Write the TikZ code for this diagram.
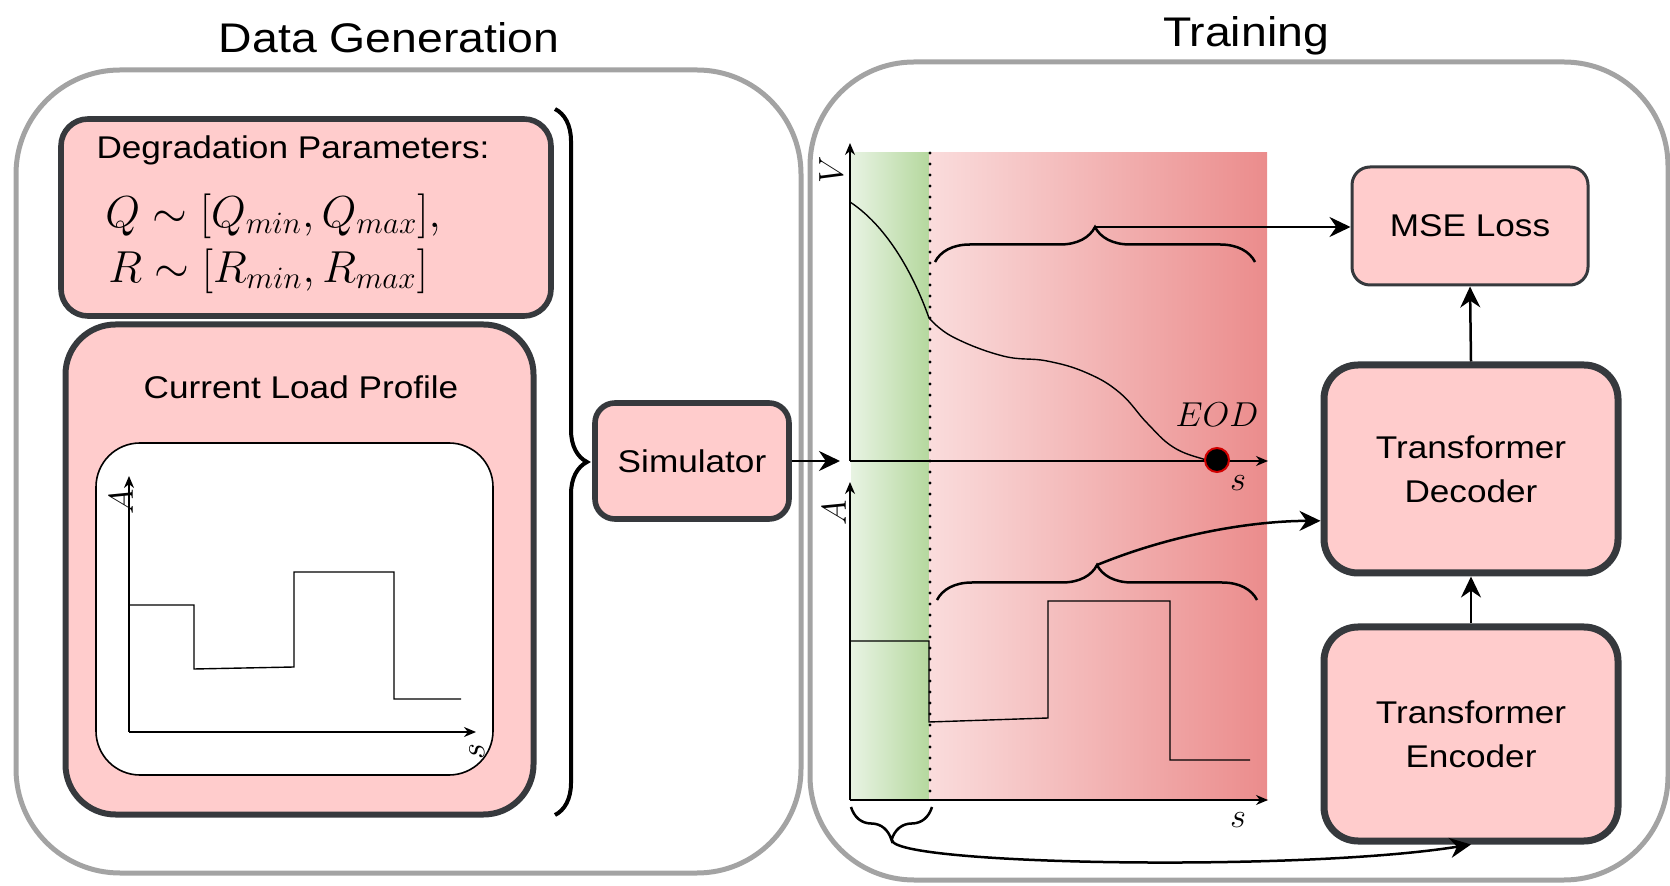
\documentclass[tikz,border=0pt]{standalone}
\usepackage{graphicx}
\usepackage[no-math]{fontspec}
\setmainfont{Liberation Sans}[FakeStretch=1.12]
\usetikzlibrary{arrows.meta,decorations.pathreplacing,calc}
\definecolor{boxpink}{HTML}{FFCCCC}
\definecolor{boxline}{HTML}{36393D}
\definecolor{outergray}{HTML}{A3A3A3}
\definecolor{greenL}{HTML}{E8F3E3}
\definecolor{greenR}{HTML}{B5D89E}
\definecolor{redL}{HTML}{FADCDC}
\definecolor{redR}{HTML}{EB8C8C}
\definecolor{eodred}{HTML}{D00000}
\newcommand{\bxfont}{\fontsize{15.7}{22}\selectfont}
\newcommand{\ttlfont}{\fontsize{20.7}{25}\selectfont}
\newcommand{\mthfont}{\fontsize{20.74}{25}\selectfont}
\newcommand{\lblfnt}{\fontsize{17.28}{20}\selectfont}
\begin{document}
\begin{tikzpicture}[x=0.5pt,y=-0.5pt,
  outer/.style={draw=outergray, line width=2.5pt, rounded corners=52pt},
  blk/.style={draw=boxline, fill=boxpink, align=center, font=\bxfont, inner sep=0pt},
  conn/.style={line width=1.25pt, -{Stealth[length=10.5pt,width=10pt]}},
  axis/.style={line width=0.7pt, -{Stealth[length=6pt,width=5pt]}},
  curve/.style={line width=0.7pt},
  brc/.style={decorate, decoration={brace, amplitude=#1}, line width=1.25pt},
  ttl/.style={font=\ttlfont, anchor=base},
  lbl/.style={font=\lblfnt, inner sep=0pt},
]
\useasboundingbox (0,0) rectangle (1670,886);
\clip (0,0) rectangle (1670,886);
% outer frames
\draw[outer] (16,70) rectangle (801,873);
\draw[outer] (810,62) rectangle (1668,880);
% titles
\node[ttl] (tdg) at (389,53) {Data Generation};
\node[ttl] (ttr) at (1246,47) {Training};
% degradation parameters
\node[blk, line width=2.8pt, rounded corners=13.5pt, minimum width=245pt, minimum height=98.5pt] (deg) at (306,217.5) {};
\node[font=\bxfont, inner sep=0pt] (degt) at (293,150) {Degradation Parameters:};
\node[font=\mthfont, anchor=west, inner sep=0pt] (degq) at (105,216) {\scalebox{1.08}{$Q\sim[Q_{min},Q_{max}],$}};
\node[font=\mthfont, anchor=west, inner sep=0pt] (degr) at (108,271) {\scalebox{1.08}{$R\sim[R_{min},R_{max}]$}};
% current load profile
\node[blk, line width=3pt, rounded corners=25pt, minimum width=234pt, minimum height=245pt] (clp) at (299.5,569.5) {};
\node[font=\bxfont, inner sep=0pt] (clpt) at (301,387) {Current Load Profile};
\node[draw=black, fill=white, line width=0.8pt, rounded corners=22pt, minimum width=198.5pt, minimum height=166pt, inner sep=0pt] (plotbg) at (294.5,609) {};
\draw[axis] (129,732) -- (129,476);
\draw[axis] (129,732) -- (476,732);
\node[lbl, rotate=90] (la) at (121,502) {$A$};
\node[lbl, rotate=90] (ls) at (477,752) {$s$};
\draw[curve] (129,605) -- (194,605) -- (194,669) -- (294,667) -- (294,572) -- (394,572) -- (394,699) -- (461,699);
% big brace
\draw[brc=16pt, line width=2pt] (555,109) -- (555,815);
\coordinate (btip) at (587,461);
% simulator
\node[blk, line width=2.8pt, rounded corners=10pt, minimum width=97pt, minimum height=58pt] (sim) at (692,461) {Simulator};
\coordinate (chin) at (840,461);
\draw[conn] (sim.east) -- (chin);
% chart backgrounds
\shade[left color=greenL, right color=greenR] (851,153) rectangle (929,800);
\shade[left color=redL, right color=redR] (929,153) rectangle (1267,800);
\draw[line width=1.6pt, line cap=round, dash pattern=on 0pt off 5.5pt] (930,153) -- (930,800);
% axes
\draw[axis] (850,461) -- (850,143);
\draw[axis] (850,461) -- (1268,461);
\draw[axis] (850,800) -- (850,482);
\draw[axis] (850,800) -- (1268,800);
\node[lbl, rotate=90] (lv) at (831,170) {$V$};
\node[lbl, rotate=90] (la2) at (834,513) {$A$};
\node[lbl] (ls1) at (1238,483) {$s$};
\node[lbl] (ls2) at (1238,820) {$s$};
\node[lbl] (leod) at (1217,415) {$EOD$};
% voltage curve
\draw[curve] (850,202) .. controls (885,225) and (912,270) .. (929,318);
\draw[curve] plot[smooth, tension=0.7] coordinates {(929,318) (953,337) (1003,356) (1047,361) (1087,373) (1120,393) (1147,423) (1173,447) (1203,459) (1217,461)};
\node[circle, fill=black, draw=eodred, line width=1pt, minimum size=12pt, inner sep=0pt] (eod) at (1217,460) {};
% current profile in chart
\draw[curve] (850,641) -- (929,641) -- (929,722) -- (1048,718) -- (1048,601) -- (1170,601) -- (1170,760) -- (1250,760);
% braces in chart
\draw[brc=17.5pt] (935,262) -- (1255,262);
\coordinate (t1) at (1095,227);
\draw[brc=17.5pt] (937,600) -- (1257,600);
\coordinate (t2) at (1097,565);
\draw[brc=16.5pt] (932,807) -- (851,807);
\coordinate (t3) at (892,840);
% right boxes
\node[blk, line width=1.5pt, rounded corners=9pt, minimum width=118pt, minimum height=59pt] (mse) at (1470,226) {MSE Loss};
\node[blk, line width=3.5pt, rounded corners=17pt, minimum width=147pt, minimum height=104pt] (dec) at (1471,469) {Transformer\\Decoder};
\node[blk, line width=3.5pt, rounded corners=17pt, minimum width=147pt, minimum height=107pt] (enc) at (1471,734) {Transformer\\Encoder};
% connectors
\draw[conn] (t1) -- (t1 -| mse.west);
\draw[conn] (t2) .. controls (1170,535) and (1250,521) .. (dec.199);
\draw[conn] (enc.north) -- (dec.south);
\draw[conn] (dec.north) -- (mse.south);
\draw[conn] (t3) .. controls (892,865) and (1300,872) .. (enc.south);
\end{tikzpicture}
\end{document}
